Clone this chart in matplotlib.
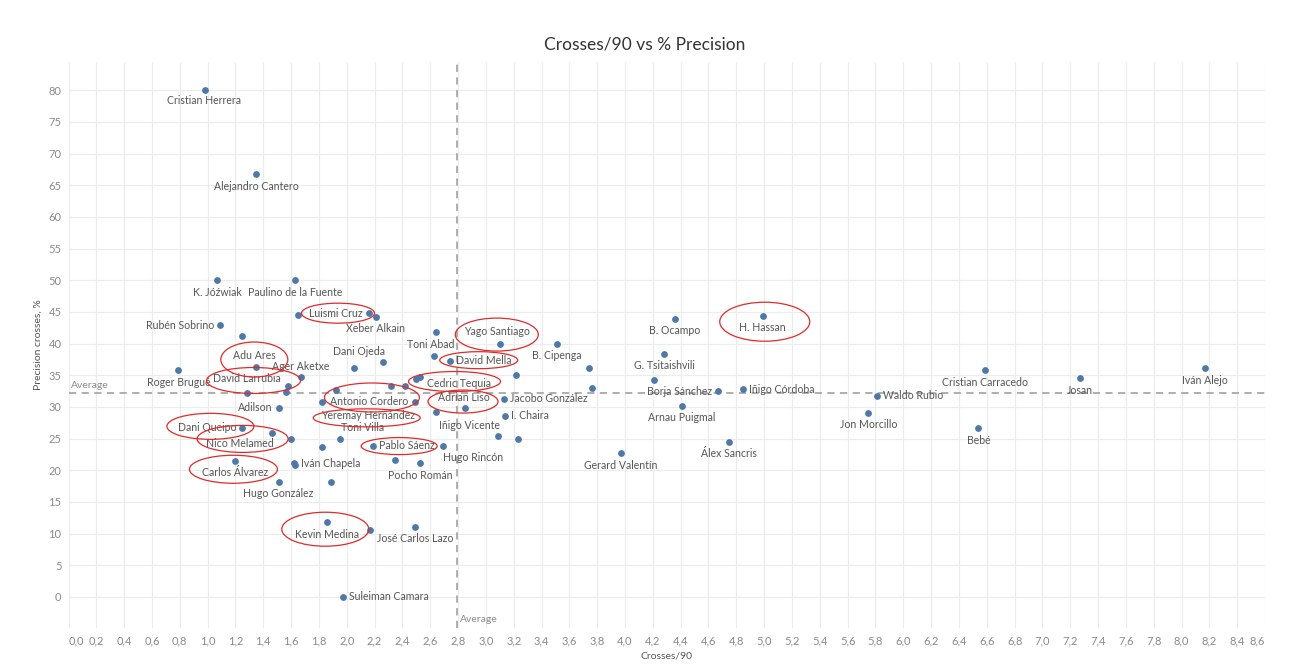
import matplotlib
matplotlib.use('Agg')
import matplotlib.pyplot as plt
from matplotlib.patches import Ellipse
from matplotlib.transforms import Affine2D, ScaledTranslation

plt.rcParams['font.family'] = ['Lato', 'DejaVu Sans']

# players (None = point whose label Tableau hid)
names = ['Cristian Herrera', 'Alejandro Cantero', 'K. Jóźwiak', 'Paulino de la Fuente', None,
         'Luismi Cruz', 'Xeber Alkain', 'Rubén Sobrino', None, 'Toni Abad',
         'Yago Santiago', 'B. Cipenga', 'B. Ocampo', 'H. Hassan', 'Dani Ojeda',
         None, None, 'David Mella', None, None,
         None, 'G. Tsitaishvili', None, 'Borja Sánchez', 'Iñigo Córdoba',
         'Arnau Puigmal', 'Gerard Valentín', 'Álex Sancris', 'Cristian Carracedo', 'Josan',
         'Iván Alejo', 'Waldo Rubio', 'Jon Morcillo', 'Bebé', 'Adu Ares',
         'Roger Brugué', 'Ager Aketxe', None, None, 'David Larrubia',
         'Adilson', 'Dani Queipo', 'Nico Melamed', None, 'Carlos Álvarez',
         'Iván Chapela', None, 'Hugo González', None, 'Kevin Medina',
         None, 'José Carlos Lazo', 'Suleiman Camara', None, 'Yeremay Hernández',
         None, None, None, 'Cedric Tequia', 'Antonio Cordero',
         'Iñigo Vicente', 'Adrian Liso', 'Jacobo González', 'I. Chaira', None,
         None, 'Toni Villa', None, 'Pablo Sáenz', 'Hugo Rincón',
         None, 'Pocho Román']
crosses_90 = [0.98, 1.35, 1.07, 1.63, 1.65,
              2.16, 2.21, 1.09, 1.25, 2.64,
              3.10, 3.51, 4.36, 4.99, 2.05,
              2.26, 2.63, 2.74, 3.22, 3.74,
              3.76, 4.28, 4.21, 4.67, 4.85,
              4.41, 3.97, 4.75, 6.59, 7.27,
              8.17, 5.81, 5.75, 6.54, 1.35,
              0.79, 1.67, 1.58, 1.56, 1.28,
              1.51, 1.25, 1.46, 1.60, 1.20,
              1.62, 1.63, 1.51, 1.89, 1.86,
              2.17, 2.49, 1.97, 1.92, 1.82,
              2.32, 2.42, 2.50, 2.53, 2.49,
              2.64, 2.85, 3.13, 3.14, 3.09,
              3.23, 1.95, 1.82, 2.19, 2.69,
              2.35, 2.53]
precision = [80.0, 66.7, 50.0, 50.0, 44.5,
             44.8, 44.2, 42.9, 41.2, 41.8,
             40.0, 40.0, 43.9, 44.4, 36.2,
             37.1, 38.0, 37.3, 35.0, 36.1,
             33.0, 38.4, 34.2, 32.5, 32.8,
             30.2, 22.7, 24.5, 35.8, 34.5,
             36.1, 31.8, 29.1, 26.6, 36.3,
             35.8, 34.7, 33.3, 32.4, 32.2,
             29.9, 26.7, 25.9, 25.0, 21.5,
             21.1, 20.8, 18.2, 18.2, 11.8,
             10.6, 11.1, 0.0, 32.6, 30.8,
             33.3, 33.3, 34.4, 34.8, 30.7,
             29.2, 29.9, 31.3, 28.6, 25.4,
             25.0, 25.0, 23.6, 23.9, 23.9,
             21.6, 21.1]

avg_crosses = 2.79
avg_precision = 32.2

x_ticks = [i / 5 for i in range(44)]
y_ticks = list(range(0, 85, 5))

# label placement: (dx px, dy px, ha); default is centred below the point
label_pos = {
    'Cristian Herrera': (-1, -10, 'center'),
    'Luismi Cruz': (-6, 0, 'right'),
    'Rubén Sobrino': (-6, 0, 'right'),
    'Toni Abad': (-5, -12, 'center'),
    'Yago Santiago': (-3, 12.5, 'center'),
    'Borja Sánchez': (-6, 0, 'right'),
    'Iñigo Córdoba': (6, 0, 'left'),
    'Jacobo González': (6, 0, 'left'),
    'I. Chaira': (6, 0, 'left'),
    'David Mella': (6, 0, 'left'),
    'Pablo Sáenz': (6, 0, 'left'),
    'Iván Chapela': (7, 0, 'left'),
    'Suleiman Camara': (6, 0, 'left'),
    'Waldo Rubio': (6, 0, 'left'),
    'Iñigo Vicente': (3.5, -13.5, 'left'),
    'Adrian Liso': (-1, 10, 'center'),
    'Cedric Tequia': (7, -7, 'left'),
    'Antonio Cordero': (-7, 1, 'right'),
    'Yeremay Hernández': (-0.5, -14, 'left'),
    'Toni Villa': (1, 11, 'left'),
    'Hugo Rincón': (0, -11.5, 'left'),
    'Dani Ojeda': (5, 16, 'center'),
    'Adu Ares': (-2, 12, 'center'),
    'Ager Aketxe': (0, 11, 'center'),
    'David Larrubia': (0, 14, 'center'),
    'Adilson': (-6, 0, 'right'),
    'Dani Queipo': (-6, 0, 'right'),
    'Nico Melamed': (-32, -10.6, 'center'),
}

# hand-drawn red rings: (dx, dy, width, height) in px from the point
rings = {
    'Luismi Cruz': (-31, 0, 73, 20),
    'Yago Santiago': (-3, 9, 83, 33),
    'David Mella': (29, 0.5, 78, 17),
    'Cedric Tequia': (34, -5, 92, 20),
    'Adrian Liso': (-2, 6, 70, 23),
    'Antonio Cordero': (-43, 5, 95, 29),
    'Yeremay Hernández': (45, -16, 107, 18),
    'Pablo Sáenz': (26, -0.5, 76, 17),
    'Adu Ares': (-2, 7.5, 67, 35),
    'David Larrubia': (7, 12.5, 94, 26),
    'Dani Queipo': (-32, 1.5, 87, 26),
    'Nico Melamed': (-29, -6, 91, 27),
    'Carlos Álvarez': (-2, -8.5, 88, 28),
    'Kevin Medina': (-2, -7, 87, 34),
    'H. Hassan': (2, -6, 90, 39),
}

fig = plt.figure(figsize=(13.1, 6.72), dpi=100)
ax = fig.add_axes([68.5 / 1310, 44 / 672, (1265 - 68.5) / 1310, (628 - 61.7) / 672])

ax.set_xlim(0, 8.6)
ax.set_ylim(-4.9, 84.5)
ax.set_xticks(x_ticks)
ax.set_yticks(y_ticks)
ax.set_xticklabels([f'{t:.1f}'.replace('.', ',') for t in x_ticks])
ax.set_yticklabels([str(t) for t in y_ticks])
ax.tick_params(length=0, labelsize=8, colors='#8a8a8a', pad=5)
xl = ax.get_xticklabels()
xl[0].set_ha('left')
xl[-1].set_ha('right')
ax.grid(True, color='#ececec', linewidth=0.8)
ax.set_axisbelow(True)
for s in ax.spines.values():
    s.set_visible(False)

ax.axvline(avg_crosses, color='#a8a8a8', linestyle=(0, (4, 3)), linewidth=1.3, zorder=1)
ax.axhline(avg_precision, color='#a8a8a8', linestyle=(0, (4, 3)), linewidth=1.3, zorder=1)
ax.annotate('Average', (0, avg_precision), xytext=(2, 7), textcoords='offset pixels',
            fontsize=7.5, color='#8a8a8a', va='center', ha='left')
ax.annotate('Average', (avg_crosses, -4.9), xytext=(3, 9), textcoords='offset pixels',
            fontsize=7.5, color='#8a8a8a', va='center', ha='left')

ax.scatter(crosses_90, precision, s=24, color='#4e79a7', zorder=3, linewidths=0)

for n, x, y in zip(names, crosses_90, precision):
    if n is None:
        continue
    dx, dy, ha = label_pos.get(n, (0, -12, 'center'))
    ax.annotate(n, (x, y), xytext=(dx, dy), textcoords='offset pixels',
                fontsize=7.6, color='#555555', ha=ha, va='center', zorder=4)
    if n in rings:
        rdx, rdy, w, h = rings[n]
        tr = Affine2D().translate(rdx, rdy) + ScaledTranslation(x, y, ax.transData)
        ax.add_patch(Ellipse((0, 0), w, h, transform=tr, fill=False,
                             edgecolor='#e02a2a', linewidth=0.9, zorder=5))

fig.text(645 / 1310, 1 - 44 / 672, 'Crosses/90 vs % Precision', ha='center', va='center',
         fontsize=12.5, color='#333333')
ax.set_xlabel('Crosses/90', fontsize=7.5, color='#555555', labelpad=4)
ax.set_ylabel('Precision crosses, %', fontsize=7.5, color='#555555', labelpad=4)

fig.savefig('out.png', dpi=100)
